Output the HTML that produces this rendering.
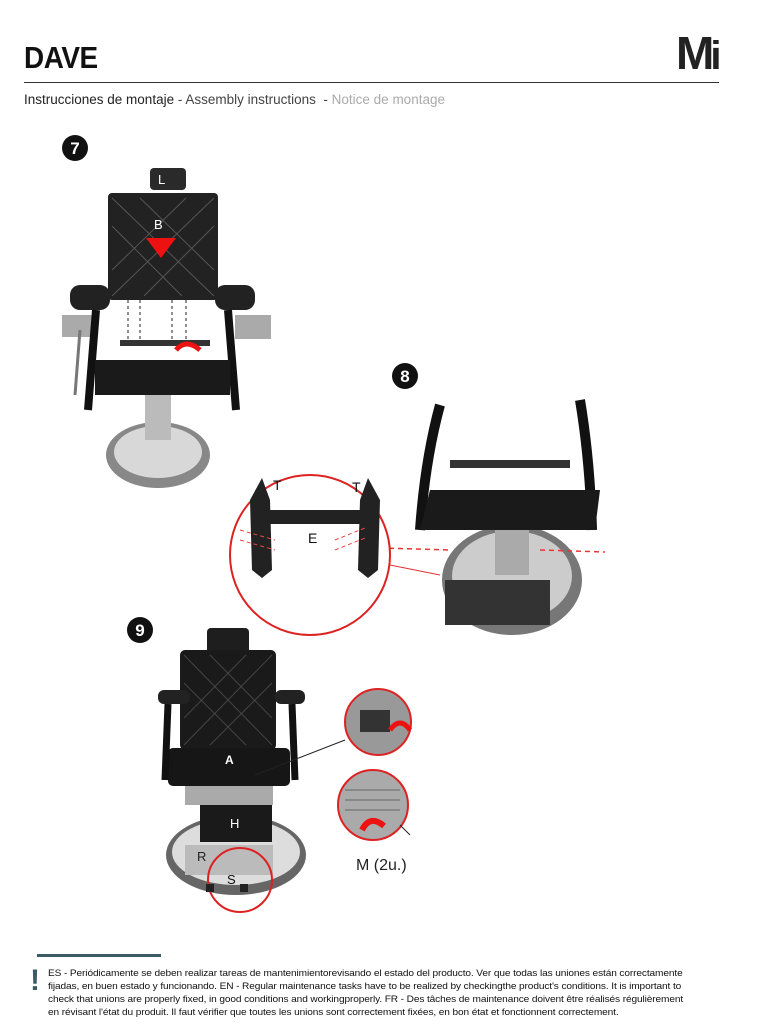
<!DOCTYPE html>
<html><head><meta charset="utf-8"><style>
body{margin:0;width:760px;height:1025px;background:#fff;position:relative;overflow:hidden;font-family:"Liberation Sans",sans-serif}
.a{position:absolute}
.f{position:absolute;left:48px;font-size:9.2px;color:#111;white-space:nowrap;transform:scaleX(1.1);transform-origin:left;letter-spacing:-0.1px}
</style></head><body>
<div class="a" style="left:24px;top:40px;font-size:31px;font-weight:bold;color:#111;letter-spacing:-0.5px;transform:scaleX(0.9);transform-origin:left">DAVE</div>
<div class="a" style="left:676px;top:26px;font-size:46px;font-weight:bold;color:#222;letter-spacing:-4px">M<span style="font-size:40px">i</span></div>
<div class="a" style="left:24px;top:82px;width:695px;height:1px;background:#333"></div>
<div class="a" style="left:24px;top:92px;font-size:13.5px;color:#222;white-space:nowrap">Instrucciones de montaje <span style="color:#444">- Assembly instructions&nbsp; -</span> <span style="color:#aaa">Notice de montage</span></div>

<svg class="a" style="left:0;top:0" width="760" height="940">
<circle cx="75" cy="148" r="13" fill="#111"/><text x="75" y="154" font-size="17" font-weight="bold" fill="#fff" text-anchor="middle" font-family="Liberation Sans">7</text>
<circle cx="405" cy="376" r="13" fill="#111"/><text x="405" y="382" font-size="17" font-weight="bold" fill="#fff" text-anchor="middle" font-family="Liberation Sans">8</text>
<circle cx="140" cy="630" r="13" fill="#111"/><text x="140" y="636" font-size="17" font-weight="bold" fill="#fff" text-anchor="middle" font-family="Liberation Sans">9</text>

<!-- chair 7 -->
<ellipse cx="158" cy="455" rx="52" ry="33" fill="#888"/><ellipse cx="158" cy="452" rx="44" ry="26" fill="#d8d8d8"/>
<rect x="145" y="380" width="26" height="60" fill="#bbb"/>
<rect x="150" y="168" width="36" height="22" rx="4" fill="#2a2a2a"/>
<rect x="108" y="193" width="110" height="107" rx="4" fill="#222"/>
<path d="M112 198 L214 296 M214 198 L112 296 M140 198 L214 270 M186 198 L112 270 M112 226 L182 296 M214 226 L144 296" stroke="#555" stroke-width="1"/>
<polygon points="146,238 176,238 161,258" fill="#e11"/>
<rect x="70" y="285" width="40" height="25" rx="10" fill="#222"/><rect x="62" y="315" width="34" height="22" fill="#aaa"/>
<rect x="215" y="285" width="40" height="25" rx="10" fill="#222"/><rect x="235" y="315" width="36" height="24" fill="#aaa"/>
<path d="M96 310 L88 410 M228 310 L236 410" stroke="#111" stroke-width="8" fill="none"/>
<rect x="95" y="360" width="135" height="35" fill="#1a1a1a"/>
<rect x="120" y="340" width="90" height="6" fill="#333"/>
<path d="M128 300 V340 M140 300 V340 M172 300 V340 M186 300 V340" stroke="#222" stroke-dasharray="3,3"/>
<path d="M176 350 q10 -12 24 0" stroke="#e11" stroke-width="5" fill="none"/>
<line x1="80" y1="330" x2="75" y2="395" stroke="#777" stroke-width="3"/>
<text x="158" y="184" font-size="13" fill="#fff" font-family="Liberation Sans">L</text>
<text x="154" y="229" font-size="13" fill="#fff" font-family="Liberation Sans">B</text>

<!-- chair 8 -->
<ellipse cx="512" cy="580" rx="70" ry="55" fill="#777"/><ellipse cx="512" cy="576" rx="60" ry="45" fill="#ccc"/>
<rect x="495" y="520" width="34" height="55" fill="#aaa"/>
<rect x="445" y="580" width="105" height="45" fill="#333"/>
<path d="M440 405 Q425 460 420 530 M580 400 Q590 460 592 530" stroke="#111" stroke-width="10" fill="none"/>
<polygon points="430,490 600,490 595,530 420,530" fill="#1a1a1a"/>
<rect x="450" y="460" width="120" height="8" fill="#333"/>
<line x1="540" y1="550" x2="605" y2="552" stroke="#e33" stroke-dasharray="5,4" stroke-width="1.5"/>
<line x1="380" y1="548" x2="450" y2="550" stroke="#e33" stroke-dasharray="5,4" stroke-width="1.5"/>
<line x1="390" y1="565" x2="440" y2="575" stroke="#d33" stroke-width="1"/>
<circle cx="310" cy="555" r="80" fill="#fff" stroke="#d22" stroke-width="2"/>
<path d="M262 478 L250 500 L252 570 L262 578 L272 570 L270 500 Z" fill="#222"/>
<path d="M368 478 L380 500 L378 570 L368 578 L358 570 L360 500 Z" fill="#222"/>
<rect x="262" y="510" width="108" height="14" fill="#222"/>
<path d="M240 530 L275 540 M240 540 L275 550 M335 540 L365 528 M335 550 L365 538" stroke="#e44" stroke-dasharray="4,3"/>
<text x="273" y="490" font-size="14" fill="#111" font-family="Liberation Sans">T</text>
<text x="352" y="492" font-size="14" fill="#111" font-family="Liberation Sans">T</text>
<text x="308" y="543" font-size="14" fill="#111" font-family="Liberation Sans">E</text>

<!-- chair 9 -->
<ellipse cx="236" cy="855" rx="70" ry="40" fill="#666"/><ellipse cx="236" cy="852" rx="64" ry="33" fill="#ddd"/>
<rect x="185" y="845" width="88" height="30" fill="#bbb"/>
<rect x="200" y="800" width="72" height="42" fill="#1a1a1a"/>
<rect x="185" y="785" width="88" height="20" fill="#aaa"/>
<rect x="207" y="628" width="42" height="32" rx="4" fill="#1e1e1e"/>
<rect x="180" y="650" width="96" height="100" rx="5" fill="#1a1a1a"/>
<path d="M184 655 L272 745 M272 655 L184 745 M210 655 L272 718 M246 655 L184 718 M184 683 L246 745 M272 683 L210 745" stroke="#444"/>
<rect x="168" y="748" width="122" height="38" rx="5" fill="#161616"/>
<rect x="158" y="690" width="32" height="14" rx="6" fill="#222"/><rect x="275" y="690" width="30" height="14" rx="6" fill="#222"/>
<path d="M168 704 L165 780 M292 704 L295 780" stroke="#111" stroke-width="7"/>
<line x1="255" y1="775" x2="345" y2="740" stroke="#222"/>
<circle cx="240" cy="880" r="32" fill="none" stroke="#d22" stroke-width="2"/>
<rect x="206" y="884" width="8" height="8" fill="#222"/><rect x="240" y="884" width="8" height="8" fill="#222"/>
<text x="225" y="764" font-size="12" font-weight="bold" fill="#fff" font-family="Liberation Sans">A</text>
<text x="230" y="828" font-size="13" fill="#fff" font-family="Liberation Sans">H</text>
<text x="197" y="861" font-size="13" fill="#222" font-family="Liberation Sans">R</text>
<text x="227" y="884" font-size="13" fill="#111" font-family="Liberation Sans">S</text>
<circle cx="378" cy="722" r="33" fill="#999" stroke="#d22" stroke-width="2"/>
<rect x="360" y="710" width="30" height="22" fill="#333"/>
<path d="M390 730 q10 -14 20 0" stroke="#e11" stroke-width="5" fill="none"/>
<circle cx="373" cy="805" r="35" fill="#aaa" stroke="#d22" stroke-width="2"/>
<path d="M345 790 H400 M345 800 H400 M345 810 H400" stroke="#666"/>
<path d="M362 830 q8 -16 22 -4" stroke="#e11" stroke-width="6" fill="none"/>
<line x1="400" y1="825" x2="410" y2="835" stroke="#222"/>
<text x="356" y="870" font-size="16" fill="#222" font-family="Liberation Sans">M (2u.)</text>
</svg>

<div class="a" style="left:37px;top:954px;width:124px;height:3px;background:#3d5b66"></div>
<div class="a" style="left:30px;top:966px;font-size:30px;font-weight:bold;color:#3d5b66;line-height:30px">!</div>
<div class="f" style="top:968px">ES - Periódicamente se deben realizar tareas de mantenimientorevisando el estado del producto. Ver que todas las uniones están correctamente</div>
<div class="f" style="top:981px">fijadas, en buen estado y funcionando. EN - Regular maintenance tasks have to be realized by checkingthe product's conditions. It is important to</div>
<div class="f" style="top:994px">check that unions are properly fixed, in good conditions and workingproperly. FR - Des tâches de maintenance doivent être réalisés régulièrement</div>
<div class="f" style="top:1007px">en révisant l'état du produit. Il faut vérifier que toutes les unions sont correctement fixées, en bon état et fonctionnent correctement.</div>
</body></html>
